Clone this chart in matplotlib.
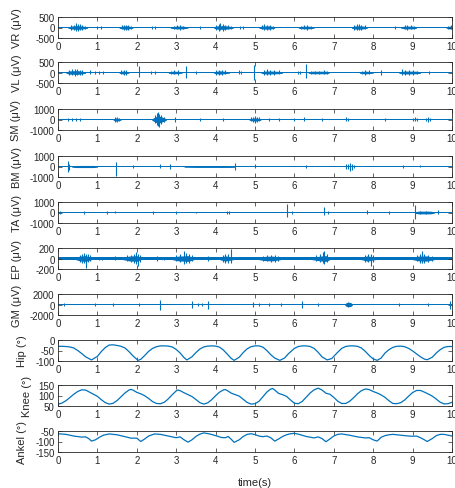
import numpy as np
import matplotlib
matplotlib.use('Agg')
import matplotlib.pyplot as plt

plt.rcParams['font.family'] = ['Liberation Sans', 'DejaVu Sans']
plt.rcParams['axes.unicode_minus'] = False

BLUE = '#0072BD'
DARK = '#262626'

# channel labels and y ranges
labels = ['VR (μV)', 'VL (μV)', 'SM (μV)', 'BM (μV)', 'TA (μV)', 'EP (μV)', 'GM (μV)',
          'Hip (°)', 'Knee (°)', 'Ankel (°)']
ylims = [(-500, 500), (-500, 500), (-1000, 1000), (-1000, 1000), (-1000, 1000),
         (-200, 200), (-2000, 2000), (-100, 0), (50, 150), (-150, -50)]
yticks = [[-500, 0, 500], [-500, 0, 500], [-1000, 0, 1000], [-1000, 0, 1000],
          [-1000, 0, 1000], [-200, 0, 200], [-2000, 0, 2000], [-100, -50, 0],
          [50, 100, 150], [-150, -100, -50]]
xticks = list(range(11))

# EMG: baseline noise level, burst cores (t, amplitude), spikes (t, up, down)
vr_base = 35
vr_env = [[(0.25, 35), (0.35, 70), (0.5, 90), (0.65, 60), (0.75, 35)],
          [(1.55, 35), (1.65, 70), (1.75, 80), (1.9, 35)],
          [(2.85, 35), (3.0, 65), (3.15, 65), (3.3, 35)],
          [(3.95, 35), (4.05, 80), (4.2, 90), (4.35, 60), (4.45, 35)],
          [(5.1, 35), (5.2, 70), (5.35, 80), (5.5, 35)],
          [(6.1, 35), (6.2, 60), (6.35, 65), (6.5, 35)],
          [(7.45, 35), (7.55, 75), (7.7, 80), (7.85, 35)],
          [(8.7, 35), (8.8, 65), (9.0, 65), (9.1, 35)],
          [(9.85, 35), (9.95, 65), (10.0, 65)]]
vr_spk = [(0.33, 110, -100), (0.4, 140, -120), (0.46, 200, -150), (0.5, 170, -160),
          (0.55, 150, -110), (0.6, 120, -130), (0.68, 90, -80), (1.0, 70, -60),
          (1.1, 60, -50), (1.62, 100, -90), (1.68, 140, -110), (1.72, 120, -130),
          (1.78, 130, -100), (1.85, 90, -80), (2.38, 70, -60), (2.45, 60, -60),
          (2.95, 90, -80), (3.02, 110, -90), (3.1, 100, -110), (3.18, 90, -80),
          (3.6, 60, -50), (4.02, 120, -100), (4.08, 180, -150), (4.12, 200, -140),
          (4.18, 150, -170), (4.25, 130, -120), (4.32, 110, -90), (4.4, 80, -70),
          (4.62, 70, -60), (4.7, 60, -50), (5.18, 100, -90), (5.24, 150, -120),
          (5.3, 140, -130), (5.38, 120, -100), (5.45, 90, -80), (6.18, 90, -80),
          (6.25, 110, -90), (6.32, 100, -100), (6.42, 80, -70), (7.52, 110, -100),
          (7.58, 150, -120), (7.63, 160, -140), (7.7, 130, -110), (7.78, 100, -90),
          (8.55, 60, -50), (8.8, 100, -90), (8.87, 110, -100), (8.95, 100, -90),
          (9.03, 90, -80), (9.9, 90, -80), (9.97, 100, -90)]

vl_base = 35
vl_env = [[(0.2, 35), (0.3, 80), (0.5, 90), (0.7, 35)],
          [(1.55, 35), (1.65, 70), (1.8, 35)],
          [(2.8, 35), (2.95, 65), (3.15, 35)],
          [(3.95, 35), (4.1, 80), (4.35, 35)],
          [(5.15, 35), (5.3, 75), (5.55, 60), (5.7, 35)],
          [(6.35, 35), (6.45, 60), (6.8, 60), (6.88, 35)],
          [(7.65, 35), (7.8, 65), (8.0, 35)],
          [(8.65, 35), (8.8, 70), (9.1, 60), (9.2, 35)]]
vl_spk = [(0.28, 120, -100), (0.35, 150, -130), (0.42, 170, -150), (0.48, 150, -140),
          (0.55, 140, -120), (0.62, 110, -100), (0.82, 100, -90), (0.95, 60, -50),
          (1.05, 60, -50), (1.15, 90, -70), (1.6, 100, -90), (1.67, 120, -100),
          (1.73, 110, -110), (2.05, 330, -200), (2.35, 70, -60), (2.45, 60, -60),
          (2.88, 90, -80), (2.95, 110, -90), (3.05, 100, -100), (3.25, 290, -280),
          (3.5, 70, -60), (4.02, 120, -100), (4.08, 140, -120), (4.15, 130, -130),
          (4.25, 110, -90), (4.6, 100, -80), (4.65, 80, -70), (4.98, 380, -350),
          (5.22, 110, -100), (5.3, 150, -140), (5.38, 130, -120), (5.48, 110, -100),
          (5.62, 100, -90), (6.08, 90, -80), (6.15, 80, -70), (6.3, 420, -260),
          (6.42, 90, -80), (6.52, 80, -70), (6.62, 90, -80), (6.75, 100, -90),
          (6.82, 90, -80), (7.72, 90, -80), (7.8, 110, -100), (7.9, 100, -90),
          (8.2, 120, -110), (8.72, 160, -140), (8.8, 110, -100), (8.9, 100, -110),
          (9.0, 110, -100), (9.12, 90, -80), (9.42, 80, -70)]

sm_base = 70
sm_env = [[(1.4, 70), (1.47, 150), (1.6, 70)],
          [(2.38, 70), (2.5, 300), (2.6, 300), (2.75, 70)],
          [(4.85, 70), (5.0, 160), (5.15, 70)]]
sm_spk = [(0.25, 130, -110), (0.35, 140, -120), (0.45, 130, -120), (0.55, 110, -100),
          (1.45, 280, -220), (1.5, 220, -200), (1.55, 180, -160), (2.45, 400, -350),
          (2.5, 600, -500), (2.53, 700, -600), (2.57, 500, -680), (2.62, 400, -450),
          (2.68, 250, -250), (2.98, 260, -280), (3.6, 110, -100), (4.2, 110, -100),
          (4.9, 200, -180), (4.95, 250, -220), (5.0, 330, -300), (5.05, 250, -260),
          (5.1, 200, -180), (5.35, 170, -160), (5.6, 130, -120), (6.0, 110, -100),
          (6.25, 200, -180), (6.7, 110, -100), (7.3, 200, -170), (7.35, 150, -140),
          (8.3, 110, -100), (9.0, 180, -160), (9.05, 200, -180), (9.12, 170, -150),
          (9.35, 180, -160), (9.4, 250, -280), (9.45, 170, -150)]

bm_base = 70
bm_env = [[(0.35, 70), (0.45, 100), (0.9, 100), (1.0, 70)],
          [(3.2, 70), (3.5, 90), (4.4, 90), (4.5, 70)]]
bm_spk = [(0.25, 480, -540), (0.28, 250, -300), (1.48, 420, -950), (1.9, 160, -150),
          (2.6, 200, -180), (2.85, 260, -230), (4.5, 330, -310), (5.0, 200, -180),
          (6.3, 140, -120), (7.3, 200, -220), (7.35, 250, -250), (7.4, 380, -420),
          (7.45, 250, -300), (7.5, 180, -150), (8.75, 150, -140), (9.2, 100, -90)]

ta_base = 70
ta_env = [[(9.05, 70), (9.15, 130), (9.45, 130), (9.55, 70)]]
ta_spk = [(0.05, 140, -130), (0.65, 140, -120), (1.25, 140, -120), (1.45, 100, -90),
          (2.4, 100, -100), (3.0, 140, -130), (3.5, 80, -70), (4.3, 150, -140),
          (4.35, 170, -160), (5.8, 830, -400), (5.95, 140, -120), (6.75, 500, -270),
          (6.85, 120, -110), (7.85, 200, -180), (8.4, 140, -120), (9.05, 670, -600),
          (9.2, 180, -160), (9.35, 170, -150), (9.65, 200, -180)]

ep_base = 22
ep_env = [[(0.45, 22), (0.55, 45), (0.7, 55), (0.85, 22)],
          [(1.65, 22), (1.8, 45), (2.0, 55), (2.1, 22)],
          [(2.9, 22), (3.05, 45), (3.3, 55), (3.45, 22)],
          [(4.1, 22), (4.25, 50), (4.45, 22)],
          [(5.1, 22), (5.25, 40), (5.45, 45), (5.65, 22)],
          [(6.45, 22), (6.65, 45), (6.8, 55), (6.9, 22)],
          [(7.7, 22), (7.85, 50), (8.05, 22)],
          [(9.0, 22), (9.15, 45), (9.35, 50), (9.55, 22)]]
ep_spk = [(0.55, 70, -60), (0.6, 90, -80), (0.65, 100, -90), (0.7, 80, -180),
          (0.75, 80, -70), (0.8, 60, -50), (1.05, 35, -30), (1.12, 30, -30),
          (1.45, 40, -35), (1.75, 60, -55), (1.85, 75, -70), (1.92, 90, -80),
          (1.98, 130, -100), (2.02, 90, -140), (2.07, 60, -60), (2.5, 45, -40),
          (2.7, 35, -30), (3.0, 60, -55), (3.1, 80, -70), (3.2, 150, -100),
          (3.25, 100, -90), (3.32, 80, -80), (3.4, 60, -50), (3.8, 50, -45),
          (4.18, 70, -60), (4.25, 90, -80), (4.32, 80, -90), (4.4, 185, -90),
          (5.2, 55, -50), (5.3, 60, -55), (5.4, 70, -60), (5.5, 65, -60),
          (5.58, 50, -45), (6.55, 60, -50), (6.65, 80, -70), (6.72, 120, -90),
          (6.75, 150, -100), (6.82, 80, -70), (7.8, 70, -60), (7.88, 80, -70),
          (7.95, 80, -140), (8.0, 60, -60), (9.1, 60, -55), (9.2, 90, -80),
          (9.25, 150, -90), (9.3, 90, -80), (9.4, 70, -60), (9.48, 55, -50)]

gm_base = 150
gm_env = [[(7.28, 150), (7.33, 400), (7.42, 400), (7.47, 150)]]
gm_spk = [(0.15, 300, -300), (0.95, 300, -300), (1.4, 300, -300), (2.05, 200, -200),
          (2.6, 820, -1070), (3.4, 630, -630), (3.55, 250, -250), (3.65, 250, -250),
          (3.8, 630, -800), (4.95, 500, -500), (5.1, 380, -380), (5.35, 200, -200),
          (5.65, 250, -250), (6.2, 630, -730), (6.6, 200, -200), (7.35, 500, -500),
          (8.65, 200, -200), (9.4, 200, -200), (9.95, 630, -950)]

# joint angles (t, deg)
hip = [(0, -30), (0.1, -30), (0.2, -31), (0.3, -33), (0.4, -38), (0.5, -50), (0.6, -64),
       (0.7, -80), (0.85, -95), (1.0, -78), (1.1, -55), (1.2, -36), (1.3, -24), (1.4, -23),
       (1.5, -26), (1.6, -30), (1.7, -38), (1.8, -55), (1.9, -75), (2.03, -97), (2.1, -92),
       (2.2, -74), (2.3, -54), (2.4, -40), (2.5, -32), (2.6, -28), (2.7, -28), (2.8, -29),
       (2.9, -33), (3.0, -45), (3.1, -62), (3.2, -84), (3.27, -95), (3.4, -80), (3.5, -60),
       (3.6, -43), (3.7, -33), (3.8, -29), (3.9, -28), (4.0, -29), (4.1, -34), (4.2, -48),
       (4.3, -68), (4.4, -88), (4.47, -97), (4.6, -82), (4.7, -60), (4.8, -42), (4.9, -32),
       (5.0, -28), (5.1, -28), (5.2, -34), (5.3, -50), (5.4, -70), (5.5, -86), (5.63, -97),
       (5.75, -86), (5.85, -65), (6.0, -40), (6.1, -31), (6.2, -28), (6.3, -28), (6.4, -31),
       (6.5, -40), (6.6, -58), (6.7, -80), (6.83, -95), (6.95, -88), (7.1, -58), (7.2, -40),
       (7.3, -31), (7.4, -28), (7.5, -28), (7.6, -30), (7.7, -38), (7.8, -54), (7.9, -74),
       (8.0, -90), (8.1, -97), (8.2, -86), (8.3, -62), (8.4, -46), (8.5, -35), (8.6, -30),
       (8.7, -29), (8.8, -32), (8.9, -40), (9.0, -52), (9.1, -66), (9.2, -80), (9.3, -91),
       (9.37, -94), (9.5, -82), (9.6, -62), (9.7, -46), (9.8, -35), (9.9, -31), (10.0, -31)]

knee = [(0, 58), (0.1, 64), (0.2, 75), (0.3, 90), (0.4, 106), (0.5, 119), (0.6, 127),
        (0.7, 126), (0.8, 116), (0.9, 106), (1.0, 96), (1.1, 80), (1.2, 66), (1.3, 59),
        (1.4, 63), (1.5, 76), (1.6, 94), (1.7, 112), (1.8, 126), (1.85, 129), (1.9, 126),
        (2.0, 115), (2.1, 108), (2.2, 99), (2.3, 86), (2.4, 71), (2.5, 62), (2.6, 61),
        (2.7, 68), (2.8, 84), (2.9, 104), (3.0, 122), (3.05, 126), (3.1, 123), (3.2, 113),
        (3.3, 104), (3.4, 95), (3.5, 81), (3.6, 66), (3.7, 59), (3.8, 65), (3.9, 80),
        (4.0, 99), (4.1, 116), (4.2, 127), (4.25, 128), (4.3, 123), (4.4, 111), (4.5, 104),
        (4.6, 97), (4.7, 82), (4.8, 67), (4.9, 59), (5.0, 61), (5.1, 72), (5.2, 94),
        (5.3, 116), (5.4, 131), (5.45, 133), (5.5, 126), (5.6, 110), (5.7, 104), (5.8, 96),
        (5.9, 79), (6.0, 63), (6.1, 61), (6.2, 72), (6.3, 92), (6.4, 112), (6.5, 127),
        (6.6, 135), (6.7, 126), (6.8, 111), (6.9, 106), (7.0, 91), (7.1, 73), (7.2, 62),
        (7.3, 62), (7.4, 72), (7.5, 89), (7.6, 108), (7.7, 123), (7.8, 131), (7.9, 128),
        (8.0, 119), (8.1, 112), (8.2, 103), (8.3, 91), (8.4, 75), (8.5, 62), (8.6, 61),
        (8.7, 66), (8.8, 79), (8.9, 97), (9.0, 114), (9.1, 124), (9.2, 124), (9.3, 116),
        (9.4, 107), (9.5, 97), (9.6, 83), (9.7, 68), (9.8, 60), (9.9, 61), (10.0, 68)]

ankle = [(0, -63), (0.2, -66), (0.4, -74), (0.6, -79), (0.7, -78), (0.78, -86), (0.85, -98),
         (0.95, -92), (1.05, -80), (1.15, -70), (1.3, -64), (1.5, -68), (1.7, -77),
         (1.85, -84), (2.0, -84), (2.1, -100), (2.2, -88), (2.3, -74), (2.45, -64),
         (2.6, -66), (2.8, -74), (3.0, -82), (3.1, -78), (3.2, -92), (3.3, -103), (3.4, -92),
         (3.5, -76), (3.6, -65), (3.7, -59), (3.85, -64), (4.0, -72), (4.15, -81),
         (4.25, -82), (4.32, -76), (4.4, -90), (4.47, -104), (4.6, -92), (4.7, -76),
         (4.8, -66), (4.9, -63), (5.0, -67), (5.1, -74), (5.2, -77), (5.3, -74), (5.4, -82),
         (5.5, -98), (5.6, -88), (5.7, -76), (5.8, -68), (5.9, -63), (6.0, -61), (6.1, -65),
         (6.3, -76), (6.5, -83), (6.6, -78), (6.7, -86), (6.8, -101), (6.9, -88), (7.0, -74),
         (7.1, -66), (7.2, -64), (7.4, -70), (7.6, -78), (7.8, -83), (7.9, -82), (8.0, -92),
         (8.1, -98), (8.2, -80), (8.3, -72), (8.4, -68), (8.5, -66), (8.7, -70), (8.9, -74),
         (9.0, -75), (9.1, -74), (9.2, -82), (9.3, -92), (9.37, -100), (9.5, -86), (9.6, -72),
         (9.7, -66), (9.8, -66), (9.9, -70), (10.0, -74)]

emg = [(vr_base, vr_env, vr_spk), (vl_base, vl_env, vl_spk), (sm_base, sm_env, sm_spk),
       (bm_base, bm_env, bm_spk), (ta_base, ta_env, ta_spk), (ep_base, ep_env, ep_spk),
       (gm_base, gm_env, gm_spk)]
angles = [hip, knee, ankle]


def draw_emg(ax, base, env, spk):
    ax.fill_between([0, 10], [-base, -base], [base, base], color=BLUE, lw=0)
    for burst in env:
        b = np.array(burst)
        ax.fill_between(b[:, 0], -b[:, 1], b[:, 1], color=BLUE, lw=0)
    s = np.array(spk)
    ax.vlines(s[:, 0], s[:, 2], s[:, 1], color=BLUE, lw=0.8)


def draw_angle(ax, pts):
    p = np.array(pts)
    ax.plot(p[:, 0], p[:, 1], color=BLUE, lw=0.9)


fig = plt.figure(figsize=(4.56, 4.89), dpi=100)
W, H = 456.0, 489.0
left_px, right_px = 58, 452
tops_px = [18, 63, 110, 157, 203, 249, 295, 341, 386, 432]
h_px = 21
label_x_px = [22, 22, 21, 22, 22, 22, 22, 27, 32, 27]

for i in range(10):
    ax = fig.add_axes([left_px / W, 1 - (tops_px[i] + h_px) / H,
                       (right_px - left_px) / W, h_px / H])
    if i < 7:
        draw_emg(ax, *emg[i])
    else:
        draw_angle(ax, angles[i - 7])
    ax.set_xlim(0, 10)
    ax.set_ylim(*ylims[i])
    ax.set_xticks(xticks)
    ax.set_yticks(yticks[i])
    ax.tick_params(direction='in', top=True, right=True, length=3, width=0.5,
                   labelsize=7, colors=DARK, pad=2.5)
    for sp in ax.spines.values():
        sp.set_linewidth(0.6)
        sp.set_color(DARK)
    ax.set_ylabel(labels[i], fontsize=8, color=DARK)
    ax.yaxis.set_label_coords((label_x_px[i] - left_px) / (right_px - left_px), 0.5)
    if i == 9:
        ax.set_xlabel('time(s)', fontsize=8, color=DARK, labelpad=8)

fig.savefig('out.png', dpi=100)
